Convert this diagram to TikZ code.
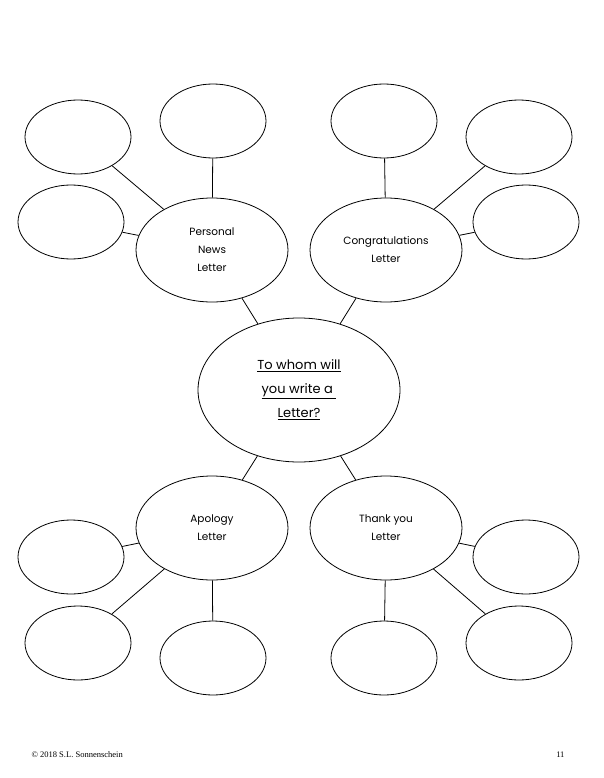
\documentclass[tikz,border=0pt]{standalone}
\usepackage{fontspec}
\setmainfont{Liberation Serif}
\newfontfamily\webfont{Poppins}
\usetikzlibrary{shapes.geometric}
\tikzset{
  bubble/.style = {draw, thick, ellipse, inner sep=0pt, align=center,
    font=\webfont\fontsize{10.5}{18}\selectfont},
  hub/.style = {bubble, minimum width=152pt, minimum height=104pt},
  leaf/.style = {bubble, minimum width=106pt, minimum height=74pt},
  link/.style = {thick}
}
\begin{document}
\begin{tikzpicture}[x=1pt, y=-1pt]
\useasboundingbox (0,0) rectangle (604,778);
\node [bubble, minimum width=202pt, minimum height=144pt,
  font=\webfont\fontsize{13}{24}\selectfont] (Q) at (299,390)
  {\underline{To whom will}\\\underline{you write a\ }\\\underline{Letter?}};
\node [hub] (PN) at (212,250) {Personal\\News\\Letter};
\node [hub] (CG) at (386,250) {Congratulations\\Letter};
\node [hub] (AP) at (212,528) {Apology\\Letter};
\node [hub] (TY) at (386,528) {Thank you\\Letter};
% leaves, top left
\node [leaf] (PN1) at (78,137) {};
\node [leaf] (PN2) at (213,121) {};
\node [leaf] (PN3) at (71,222) {};
% leaves, top right
\node [leaf] (CG1) at (384,121) {};
\node [leaf] (CG2) at (519,137) {};
\node [leaf] (CG3) at (526,222) {};
% leaves, bottom left
\node [leaf] (AP1) at (71,557) {};
\node [leaf] (AP2) at (78,643) {};
\node [leaf] (AP3) at (213,658) {};
% leaves, bottom right
\node [leaf] (TY1) at (526,557) {};
\node [leaf] (TY2) at (519,643) {};
\node [leaf] (TY3) at (384,658) {};
\foreach \h in {PN, CG, AP, TY} {
  \draw [link] (Q) -- (\h);
  \foreach \i in {1,2,3}
    \draw [link] (\h) -- (\h\i);
}
\node [anchor=west, font=\fontsize{8.5}{10}\selectfont] (copy) at (28,755)
  {\textcopyright{} 2018 S.L. Sonnenschein};
\node [anchor=east, font=\fontsize{8.5}{10}\selectfont] (page) at (568,755) {11};
\end{tikzpicture}
\end{document}
